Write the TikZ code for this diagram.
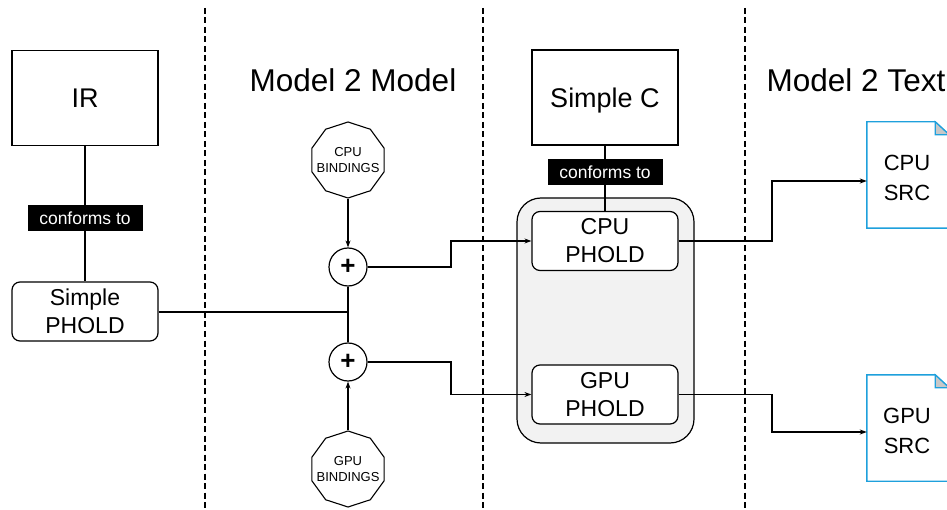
\documentclass[tikz,border=0pt]{standalone}
\usepackage{fontspec}
\setmainfont{Liberation Sans}
\usetikzlibrary{shapes.geometric,arrows.meta}
\definecolor{docblue}{RGB}{30,160,220}
\definecolor{contgray}{RGB}{242,242,242}
\definecolor{foldgray}{RGB}{200,200,200}
\tikzset{
  box/.style={draw,line width=1.2pt,minimum width=146pt,minimum height=95pt,inner sep=0pt,font=\fontsize{27}{30}\selectfont,align=center,text depth=0pt},
  rbox/.style={draw,line width=1.2pt,rounded corners=8pt,minimum width=146pt,minimum height=59pt,inner sep=0pt,font=\fontsize{23}{28}\selectfont,align=center,fill=white},
  conf/.style={fill=black,text=white,inner sep=0pt,minimum width=115pt,minimum height=26pt,font=\fontsize{17.5}{19}\selectfont},
  bind/.style={draw,line width=1.1pt,regular polygon,regular polygon sides=10,shape border rotate=18,minimum size=76pt,inner sep=0pt,fill=white},
  bindtext/.style={font=\fontsize{13}{16}\selectfont,align=center,inner sep=0pt},
  plus/.style={draw,circle,line width=1.2pt,minimum size=38pt,inner sep=0pt,font=\fontsize{26}{26}\selectfont\bfseries},
  title/.style={font=\fontsize{31.5}{34}\selectfont},
  sep/.style={line width=1.5pt,dash pattern=on 6pt off 3.5pt},
  conn/.style={line width=1.2pt},
  arr/.style={conn,-{Stealth[length=7pt,width=5pt]}},
  doctext/.style={font=\fontsize{22}{30}\selectfont,align=center},
}
\begin{document}
\begin{tikzpicture}[x=1pt,y=-1pt]
\useasboundingbox (0,0) rectangle (947,510);
\clip (0,0) rectangle (947,510);
% separators
\draw[sep] (205,8) -- (205,510);
\draw[sep] (483,8) -- (483,510);
\draw[sep] (745,8) -- (745,510);
% titles
\node[title] (t1) at (353,80) {Model 2 Model};
\node[title] (t2) at (856,80) {Model 2 Text};
% left column
\node[box] (ir) at (85,98) {IR};
\node[rbox] (sp) at (85,311.5) {Simple\\PHOLD};
\draw[conn] (ir.south) -- (sp.north);
\node[conf] (c1) at (85,218) {conforms to};
% bindings and plus
\node[bind] (cpub) at (348,160) {};
\node[bindtext] (cpubt) at (cpub.center) {CPU\\BINDINGS};
\node[bind] (gpub) at (348,469) {};
\node[bindtext] (gpubt) at (gpub.center) {GPU\\BINDINGS};
\node[plus] (p1) at (348,267) {+};
\node[plus] (p2) at (348,362) {+};
\coordinate (j) at (348,312);
\draw[arr] (cpub.south) -- (p1.north);
\draw[arr] (gpub.north) -- (p2.south);
\draw[conn] (p1.south) -- (p2.north);
\draw[conn] (sp.east |- j) -- (j);
% container
\node[draw,line width=1.2pt,fill=contgray,rounded corners=24pt,minimum width=177pt,minimum height=245pt,inner sep=0pt] (cont) at (605.5,320.5) {};
\node[box] (sc) at (605,97.5) {Simple C};
\node[rbox] (cpu) at (605,241) {CPU\\PHOLD};
\node[rbox] (gpu) at (605,394.5) {GPU\\PHOLD};
\draw[conn] (sc.south) -- (cpu.north);
\node[conf] (c2) at (605,172.5) {conforms to};
% plus to PHOLD
\draw[arr] (p1.east) -- (451,267) |- (cpu.west);
\draw[arr] (p2.east) -- (451,362) |- (gpu.west);
% documents
\node[doctext,minimum width=82pt,minimum height=106pt,inner sep=0pt] (cpusrc) at (908,175) {};
\node[doctext] (cput) at (907,178) {CPU\\SRC};
\node[doctext,minimum width=82pt,minimum height=106pt,inner sep=0pt] (gpusrc) at (908,428) {};
\node[doctext] (gput) at (907,431) {GPU\\SRC};
\foreach \d in {cpusrc,gpusrc}{
  \draw[docblue,line width=1.4pt] (\d.south west) -- (\d.north west) -- ([xshift=-14pt]\d.north east) -- ([yshift=-13pt]\d.north east) -- (\d.south east) -- cycle;
  \draw[docblue,line width=1.2pt,fill=foldgray] ([xshift=-14pt]\d.north east) -- ([xshift=-14pt,yshift=-13pt]\d.north east) -- ([yshift=-13pt]\d.north east) -- cycle;
}
\draw[arr] (cpu.east) -- (772,241) |- (cpusrc.west |- 0,181);
\draw[arr] (gpu.east) -- (772,394.5) |- (gpusrc.west |- 0,432);
\end{tikzpicture}
\end{document}
